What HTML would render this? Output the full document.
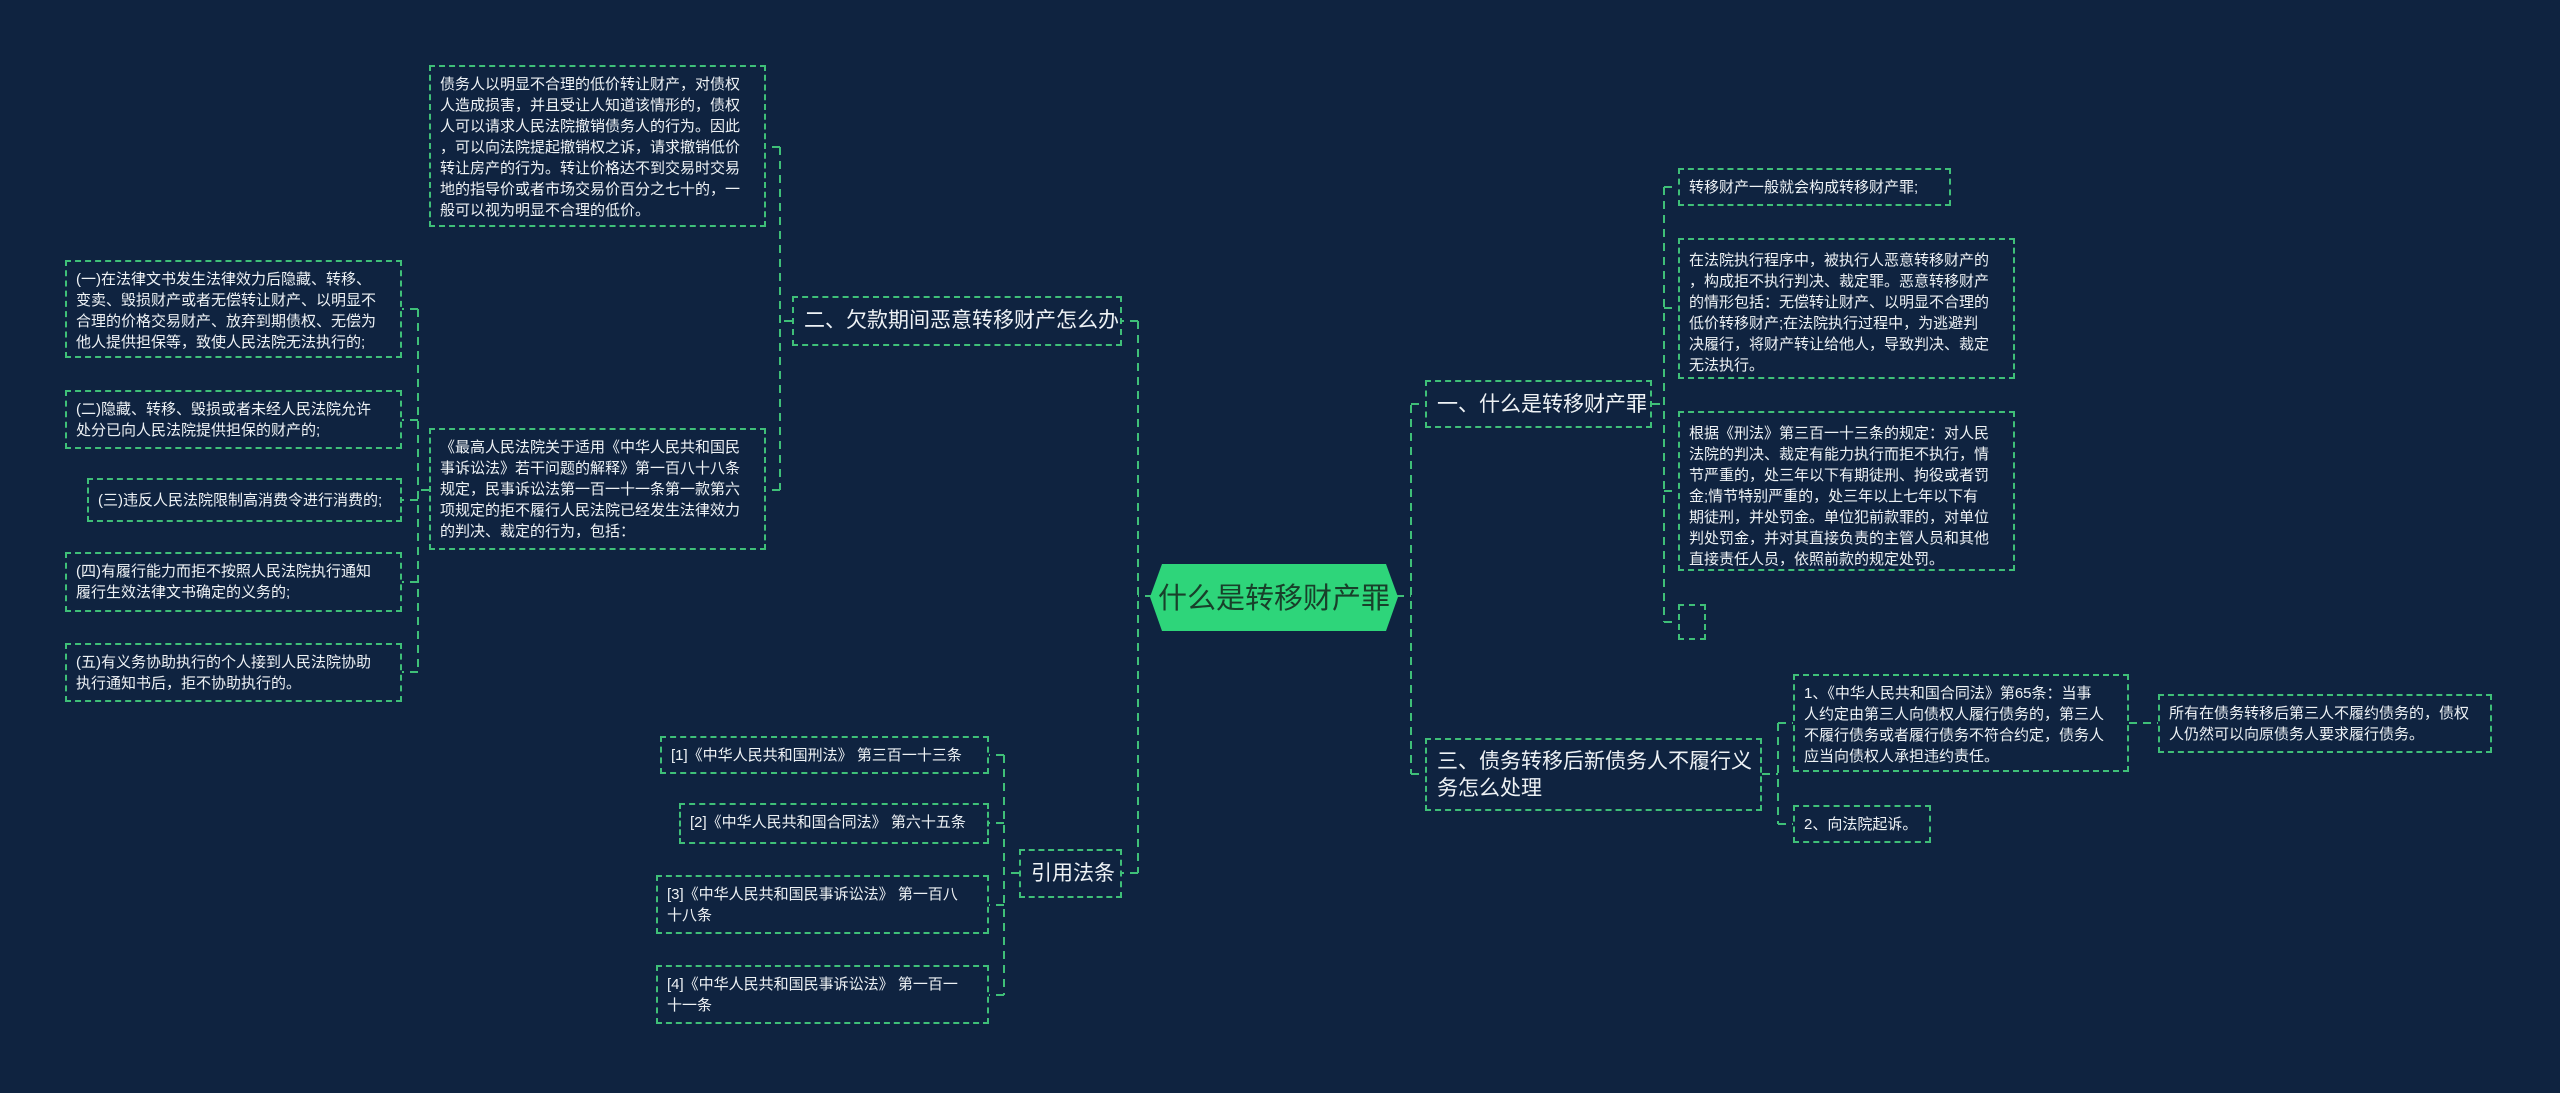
<!DOCTYPE html>
<html><head><meta charset="utf-8">
<style>
body{margin:0;width:2560px;height:1093px;background:#0f2340;overflow:hidden;position:relative;font-family:"Liberation Sans","Noto Sans CJK SC",sans-serif;}
.b{position:absolute;box-sizing:border-box;border:2px dashed #3fbf78;color:#eef2f5;font-size:15px;line-height:21px;padding:7px 9px;white-space:nowrap;}
.m{font-size:21px;line-height:30px;padding:8px 10px;}
svg{position:absolute;left:0;top:0;}
</style></head><body>
<svg width="2560" height="1093">
<g stroke="#3fbf78" stroke-width="2" stroke-dasharray="8,6" fill="none">
<path d="M1396 596H1411M1411 405V774M1411 404H1425M1411 774H1425"/>
<path d="M1153 596H1138M1138 321V873M1138 321H1122M1138 873H1122"/>
<path d="M792 321H780M780 147V490M780 147H766M780 490H766"/>
<path d="M429 490H418M418 309V672M418 309H402M418 420H402M418 500H402M418 582H402M418 672H402"/>
<path d="M1019 873H1004M1004 755V995M1004 755H989M1004 823H989M1004 905H989M1004 995H989"/>
<path d="M1652 404H1664M1664 187V622M1664 187H1678M1664 308H1678M1664 491H1678M1664 622H1678"/>
<path d="M1762 774H1778M1778 723V824M1778 723H1793M1778 824H1793"/>
<path d="M2129 723H2158"/>
</g>
<polygon points="1162,564 1386,564 1398,597 1386,631 1162,631 1150,597" fill="#2ed57a"/>
<text x="1274" y="608" text-anchor="middle" font-size="29" fill="#18402a" font-family="Liberation Sans,Noto Sans CJK SC,sans-serif">什么是转移财产罪</text>
</svg>

<div class="b m" style="left:1425px;top:380px;width:227px;height:48px;">一、什么是转移财产罪</div>
<div class="b m" style="left:792px;top:296px;width:330px;height:50px;">二、欠款期间恶意转移财产怎么办</div>
<div class="b m" style="left:1425px;top:738px;width:337px;height:73px;line-height:27px;">三、债务转移后新债务人不履行义<br>务怎么处理</div>
<div class="b m" style="left:1019px;top:849px;width:103px;height:49px;">引用法条</div>

<div class="b" style="left:1678px;top:168px;width:273px;height:38px;">转移财产一般就会构成转移财产罪;</div>
<div class="b" style="left:1678px;top:238px;width:337px;height:141px;padding-top:10px;">在法院执行程序中，被执行人恶意转移财产的<br>，构成拒不执行判决、裁定罪。恶意转移财产<br>的情形包括：无偿转让财产、以明显不合理的<br>低价转移财产;在法院执行过程中，为逃避判<br>决履行，将财产转让给他人，导致判决、裁定<br>无法执行。</div>
<div class="b" style="left:1678px;top:411px;width:337px;height:160px;padding-top:10px;">根据《刑法》第三百一十三条的规定：对人民<br>法院的判决、裁定有能力执行而拒不执行，情<br>节严重的，处三年以下有期徒刑、拘役或者罚<br>金;情节特别严重的，处三年以上七年以下有<br>期徒刑，并处罚金。单位犯前款罪的，对单位<br>判处罚金，并对其直接负责的主管人员和其他<br>直接责任人员，依照前款的规定处罚。</div>
<div class="b" style="left:1678px;top:604px;width:28px;height:36px;"></div>

<div class="b" style="left:1793px;top:674px;width:336px;height:98px;">1、《中华人民共和国合同法》第65条：当事<br>人约定由第三人向债权人履行债务的，第三人<br>不履行债务或者履行债务不符合约定，债务人<br>应当向债权人承担违约责任。</div>
<div class="b" style="left:1793px;top:805px;width:138px;height:38px;">2、向法院起诉。</div>
<div class="b" style="left:2158px;top:694px;width:334px;height:59px;">所有在债务转移后第三人不履约债务的，债权<br>人仍然可以向原债务人要求履行债务。</div>

<div class="b" style="left:429px;top:65px;width:337px;height:162px;">债务人以明显不合理的低价转让财产，对债权<br>人造成损害，并且受让人知道该情形的，债权<br>人可以请求人民法院撤销债务人的行为。因此<br>，可以向法院提起撤销权之诉，请求撤销低价<br>转让房产的行为。转让价格达不到交易时交易<br>地的指导价或者市场交易价百分之七十的，一<br>般可以视为明显不合理的低价。</div>
<div class="b" style="left:429px;top:428px;width:337px;height:122px;">《最高人民法院关于适用《中华人民共和国民<br>事诉讼法》若干问题的解释》第一百八十八条<br>规定，民事诉讼法第一百一十一条第一款第六<br>项规定的拒不履行人民法院已经发生法律效力<br>的判决、裁定的行为，包括：</div>

<div class="b" style="left:65px;top:260px;width:337px;height:98px;">(一)在法律文书发生法律效力后隐藏、转移、<br>变卖、毁损财产或者无偿转让财产、以明显不<br>合理的价格交易财产、放弃到期债权、无偿为<br>他人提供担保等，致使人民法院无法执行的;</div>
<div class="b" style="left:65px;top:390px;width:337px;height:59px;">(二)隐藏、转移、毁损或者未经人民法院允许<br>处分已向人民法院提供担保的财产的;</div>
<div class="b" style="left:87px;top:478px;width:315px;height:44px;padding-top:10px;">(三)违反人民法院限制高消费令进行消费的;</div>
<div class="b" style="left:65px;top:552px;width:337px;height:60px;">(四)有履行能力而拒不按照人民法院执行通知<br>履行生效法律文书确定的义务的;</div>
<div class="b" style="left:65px;top:643px;width:337px;height:59px;">(五)有义务协助执行的个人接到人民法院协助<br>执行通知书后，拒不协助执行的。</div>

<div class="b" style="left:660px;top:736px;width:329px;height:38px;">[1]《中华人民共和国刑法》 第三百一十三条</div>
<div class="b" style="left:679px;top:803px;width:310px;height:41px;">[2]《中华人民共和国合同法》 第六十五条</div>
<div class="b" style="left:656px;top:875px;width:333px;height:59px;">[3]《中华人民共和国民事诉讼法》 第一百八<br>十八条</div>
<div class="b" style="left:656px;top:965px;width:333px;height:59px;">[4]《中华人民共和国民事诉讼法》 第一百一<br>十一条</div>
</body></html>
